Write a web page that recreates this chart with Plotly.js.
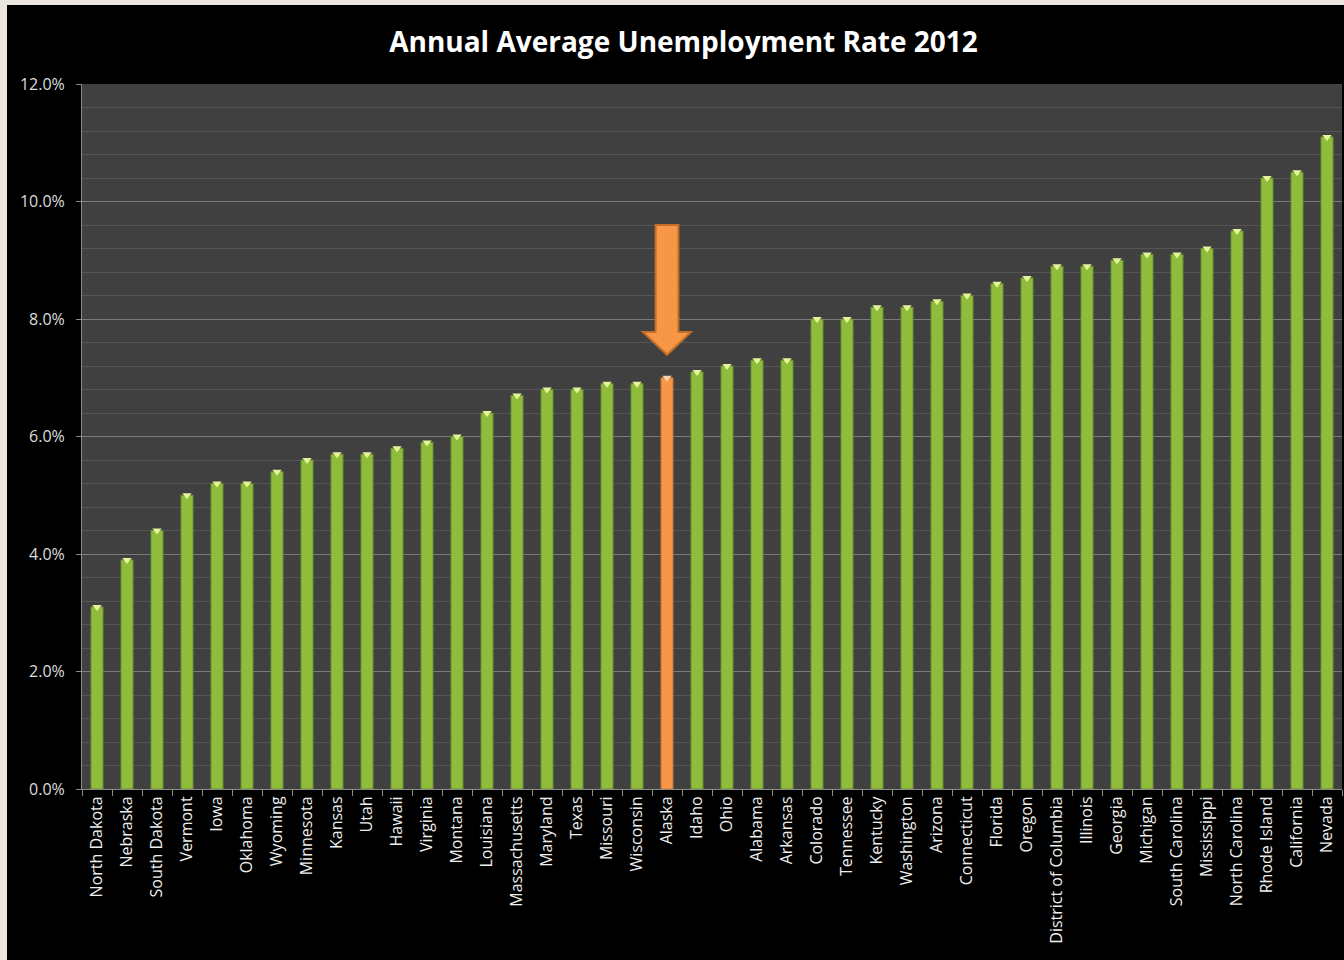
<!DOCTYPE html>
<html>
<head>
<meta charset="utf-8">
<script src="https://cdn.plot.ly/plotly-3.0.1.min.js"></script>
<style>
  html, body { margin: 0; padding: 0; background: #ebe7e0; width: 1344px; height: 960px; overflow: hidden; }
  #chart { position: absolute; left: 7px; top: 5px; width: 1337px; height: 955px; background: #000; }
</style>
</head>
<body>
<div id="chart"></div>
<script>
const states = ["North Dakota","Nebraska","South Dakota","Vermont","Iowa","Oklahoma","Wyoming","Minnesota","Kansas","Utah","Hawaii","Virginia","Montana","Louisiana","Massachusetts","Maryland","Texas","Missouri","Wisconsin","Alaska","Idaho","Ohio","Alabama","Arkansas","Colorado","Tennessee","Kentucky","Washington","Arizona","Connecticut","Florida","Oregon","District of Columbia","Illinois","Georgia","Michigan","South Carolina","Mississippi","North Carolina","Rhode Island","California","Nevada"];
const rates = [3.1,3.9,4.4,5.0,5.2,5.2,5.4,5.6,5.7,5.7,5.8,5.9,6.0,6.4,6.7,6.8,6.8,6.9,6.9,7.0,7.1,7.2,7.3,7.3,8.0,8.0,8.2,8.2,8.3,8.4,8.6,8.7,8.9,8.9,9.0,9.1,9.1,9.2,9.5,10.4,10.5,11.1];
const highlight = "Alaska";
const yTicks = [0,2,4,6,8,10,12];
const arrowTop = 9.6, arrowHeadBase = 7.78, arrowTip = 7.39;

const barColors = states.map(s => s === highlight ? "#f79646" : "#8fbc3b");
const barLines = states.map(s => s === highlight ? "#c9742e" : "#6b9130");
const capColors = states.map(s => s === highlight ? "#fbd2a8" : "#e4f49a");

const font = "'Open Sans', 'Noto Sans', sans-serif";

const traces = [
  {
    type: "bar", x: states, y: rates,
    marker: { color: barColors, line: { color: barLines, width: 1 } },
    hoverinfo: "skip"
  },
  {
    type: "scatter", mode: "markers", x: states, y: rates,
    marker: { symbol: "triangle-down", size: 8, color: capColors, line: { width: 0 } },
    hoverinfo: "skip", cliponaxis: false
  }
];

const ai = states.indexOf(highlight);
const sw = 0.38, hw = 0.8;
const arrowPath = `M ${ai - sw} ${arrowTop} L ${ai + sw} ${arrowTop} L ${ai + sw} ${arrowHeadBase} L ${ai + hw} ${arrowHeadBase} L ${ai} ${arrowTip} L ${ai - hw} ${arrowHeadBase} L ${ai - sw} ${arrowHeadBase} Z`;

const layout = {
  width: 1337, height: 955,
  paper_bgcolor: "#000000",
  plot_bgcolor: "#404040",
  showlegend: false,
  bargap: 0.6,
  margin: { l: 75, r: 2, t: 79, b: 171 },
  title: {
    text: "<b>Annual Average Unemployment Rate 2012</b>",
    font: { family: font, size: 28, color: "#ffffff" },
    x: 0.506, xanchor: "center", y: 0.961, yanchor: "middle"
  },
  xaxis: {
    type: "category",
    range: [-0.5, states.length - 0.5],
    tickangle: -90,
    tickfont: { family: font, size: 16, color: "#eeeeee" },
    showline: true, linecolor: "#8c8c8c", linewidth: 1,
    ticks: "outside", ticklen: 6, tickcolor: "#8c8c8c",
    tickson: "boundaries",
    showgrid: false, fixedrange: true
  },
  yaxis: {
    range: [0, 12],
    tickvals: yTicks,
    ticktext: yTicks.map(v => v.toFixed(1) + "%"),
    tickfont: { family: font, size: 16, color: "#dddddd" },
    ticklabelstandoff: 8,
    showline: true, linecolor: "#8c8c8c", linewidth: 1,
    ticks: "outside", ticklen: 5, tickcolor: "#8c8c8c",
    showgrid: true, gridcolor: "#7a7a7a", gridwidth: 1,
    minor: { dtick: 0.4, showgrid: true, gridcolor: "#555555", gridwidth: 1 },
    zeroline: false, fixedrange: true
  },
  shapes: [
    {
      type: "path", xref: "x", yref: "y", path: arrowPath,
      fillcolor: "#f79646", line: { color: "#c46e28", width: 2 }, layer: "above"
    }
  ]
};

Plotly.newPlot("chart", traces, layout, { staticPlot: true, displayModeBar: false });
</script>
</body>
</html>
